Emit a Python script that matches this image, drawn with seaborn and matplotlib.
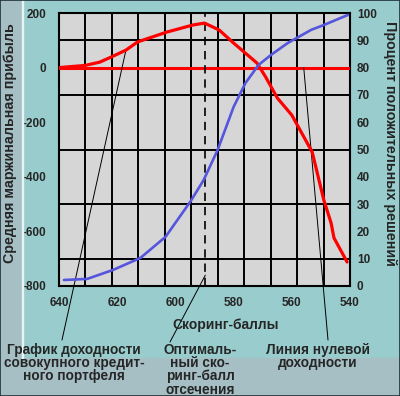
import matplotlib
matplotlib.use("Agg")
import matplotlib.pyplot as plt
import seaborn as sns
import pandas as pd
import numpy as np
from matplotlib.patches import Rectangle

# profit curve (left axis)
score_profit = [640, 631, 626, 622, 617, 613, 603, 594, 590, 585, 580, 572,
                569, 565, 560, 553, 549, 546.5, 545.5, 541]
profit = [0, 8, 20, 39, 64, 94, 130, 156, 163, 138, 90, 17,
          -34, -111, -174, -309, -485, -569, -624, -712]

# share of positive decisions (right axis)
score_share = [638.3, 630.3, 621.4, 612, 603.4, 594.8, 590.3, 585.5, 580,
               575.9, 571.4, 567.2, 561.4, 553.4, 549, 540.7]
share = [2.2, 2.6, 5.9, 10.3, 18, 31, 38.8, 49.8, 65.6,
         74.4, 81, 84.6, 89, 93.8, 95.6, 99.3]

optimum = 589.7
x_ticks = [640, 620, 600, 580, 560, 540]
left_ticks = [200, 0, -200, -400, -600, -800]
right_ticks = [100, 90, 80, 70, 60, 50, 40, 30, 20, 10, 0]

teal = "#99CCCC"
strip = "#A6BFC5"

sns.set_style("white")
plt.rcParams["font.family"] = ["Liberation Sans", "DejaVu Sans"]

W, H = 400, 396
fig = plt.figure(figsize=(4, 3.96), dpi=100)
fig.patch.set_facecolor(teal)

# side and bottom strips
fig.patches.append(Rectangle((0, 0), 22 / W, 1, transform=fig.transFigure,
                             color=strip, zorder=0))
fig.patches.append(Rectangle((0, 0), 1, (H - 358) / H, transform=fig.transFigure,
                             color=strip, zorder=0))
fig.patches.append(Rectangle((22 / W, (H - 358) / H), 1.2 / W, 358 / H,
                             transform=fig.transFigure, color="#E8F4F4", zorder=0))
fig.patches.append(Rectangle((0, 0), 1, 1, transform=fig.transFigure, fill=False,
                             edgecolor="#203038", lw=1.2, zorder=1))

ax = fig.add_axes([59 / W, (H - 286) / H, 291 / W, 273 / H])
ax.set_facecolor("#D6D6D6")

df_profit = pd.DataFrame({"score": score_profit, "profit": profit})
df_share = pd.DataFrame({"score": score_share, "share": share})

ax.axhline(0, color="#FF0000", lw=2.2, zorder=3)
ax.axvline(optimum, color="black", lw=1.2, ls=(0, (5, 3.5)), zorder=3)
sns.lineplot(data=df_profit, x="score", y="profit", sort=False, estimator=None,
             color="#FF0000", lw=2.3, ax=ax, zorder=4)

ax.set_xlim(640, 540)
ax.set_ylim(-800, 200)
ax.set_xticks(x_ticks)
ax.set_xticklabels([str(v) for v in x_ticks], fontsize=8.5, fontweight="bold")
ax.set_xticks(np.linspace(640, 540, 12), minor=True)
ax.set_yticks(left_ticks)
ax.set_yticklabels([str(v) for v in left_ticks], fontsize=8.5, fontweight="bold")
ax.set_yticks(np.arange(-800, 201, 100), minor=True)
ax.grid(False)
ax.grid(which="minor", color="black", lw=1.4)
ax.tick_params(which="both", length=0)
ax.tick_params(axis="y", pad=9)
ax.tick_params(axis="x", pad=8)
ax.set_xlabel("")
ax.set_ylabel("")
for s in ax.spines.values():
    s.set_color("black")
    s.set_linewidth(1.5)

ax2 = ax.twinx()
sns.lineplot(data=df_share, x="score", y="share", sort=False, estimator=None,
             color="#5555DD", lw=1.9, ax=ax2, zorder=4)
ax2.set_ylim(0, 100)
ax2.set_yticks(right_ticks)
ax2.set_yticklabels([str(v) for v in right_ticks], fontsize=8.5, fontweight="bold")
ax2.tick_params(length=0, pad=5)
ax2.set_ylabel("")
ax2.grid(False)
for s in ax2.spines.values():
    s.set_visible(False)

# leader lines
line_kw = dict(arrowprops=dict(arrowstyle="-", color="black", lw=0.7,
                               shrinkA=0, shrinkB=0),
               textcoords="figure pixels", annotation_clip=False)
ax.annotate("", xy=(617, 64), xytext=(62, H - 340), **line_kw)
ax.annotate("", xy=(optimum, -760), xytext=(170, H - 342), **line_kw)
ax.annotate("", xy=(555.9, 0), xytext=(328, H - 340), **line_kw)

txt = dict(fontsize=9.8, fontweight="bold", ha="center", va="top",
           linespacing=0.93)
fig.text(74 / W, 1 - 343 / H, "График доходности\nсовокупного кредит-\nного портфеля", **txt)
fig.text(200 / W, 1 - 343 / H, "Оптималь-\nный ско-\nринг-балл\nотсечения", **txt)
fig.text(318 / W, 1 - 343 / H, "Линия нулевой\nдоходности", **txt)
fig.text(226 / W, 1 - 325 / H, "Скоринг-баллы", fontsize=10, fontweight="bold",
         ha="center", va="center")
fig.text(10 / W, 1 - 143 / H, "Средняя маржинальная прибыль", fontsize=10.3,
         fontweight="bold", rotation=90, ha="center", va="center")
fig.text(390 / W, 1 - 143 / H, "Процент положительных решений", fontsize=10.3,
         fontweight="bold", rotation=-90, ha="center", va="center")

fig.savefig("out.png", dpi=100, facecolor=fig.get_facecolor())
